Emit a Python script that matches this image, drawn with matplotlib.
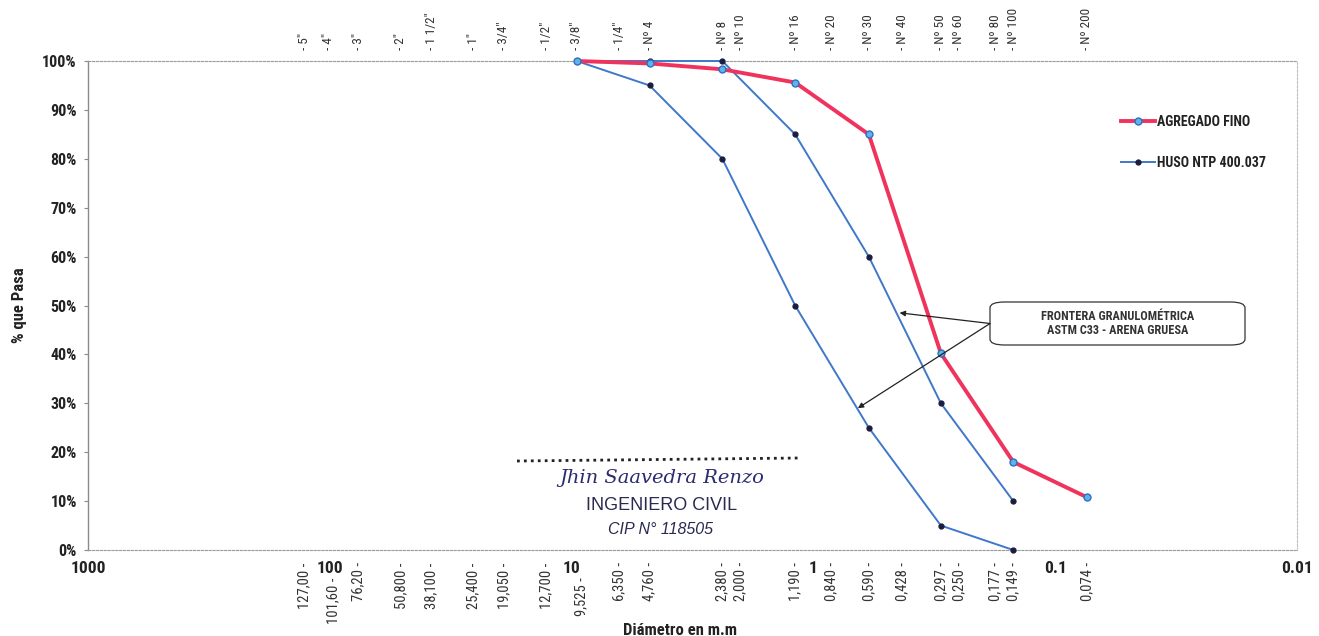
import matplotlib
matplotlib.use("Agg")
import matplotlib.pyplot as plt
from matplotlib.lines import Line2D
from matplotlib.patches import FancyBboxPatch
from matplotlib.ticker import FuncFormatter
import matplotlib.transforms as mtransforms

plt.rcParams['font.family'] = ['Roboto Condensed', 'DejaVu Sans']

# Sieve openings (mm) and their names
sieve_mm = [127.0, 101.6, 76.2, 50.8, 38.1, 25.4, 19.05, 12.7, 9.525, 6.35, 4.76,
            2.38, 2.0, 1.19, 0.84, 0.59, 0.428, 0.297, 0.25, 0.177, 0.149, 0.074]
sieve_names = ['5"', '4"', '3"', '2"', '1 1/2"', '1"', '3/4"', '1/2"', '3/8"', '1/4"', 'Nº 4',
               'Nº 8', 'Nº 10', 'Nº 16', 'Nº 20', 'Nº 30', 'Nº 40', 'Nº 50', 'Nº 60', 'Nº 80',
               'Nº 100', 'Nº 200']
sieve_mm_labels = ['127,00', '101,60', '76,20', '50,800', '38,100', '25,400', '19,050', '12,700',
                   '9,525', '6,350', '4,760', '2,380', '2,000', '1,190', '0,840', '0,590', '0,428',
                   '0,297', '0,250', '0,177', '0,149', '0,074']

# Fine aggregate gradation
fino_mm = [9.525, 4.76, 2.38, 1.19, 0.59, 0.297, 0.149, 0.074]
fino_pasa = [100.0, 99.5, 98.3, 95.6, 85.0, 40.2, 18.0, 10.8]

# ASTM C33 / NTP 400.037 limits
huso_mm = [9.525, 4.76, 2.38, 1.19, 0.59, 0.297, 0.149]
huso_sup = [100, 100, 100, 85, 60, 30, 10]
huso_inf = [100, 95, 80, 50, 25, 5, 0]

decades = [1000, 100, 10, 1, 0.1, 0.01]
decade_labels = ['1000', '100', '10', '1', '0.1', '0.01']
y_ticks = [0, 10, 20, 30, 40, 50, 60, 70, 80, 90, 100]

W, H = 1319, 636
fig = plt.figure(figsize=(W / 100, H / 100), dpi=100)
fig.patch.set_facecolor('white')
ax = fig.add_axes([88 / W, 86 / H, 1209 / W, 489 / H])

ax.set_xscale('log')
ax.set_xlim(1000, 0.01)
ax.set_ylim(0, 100)

red = '#f0335c'
blue = '#3f78c9'
navy = '#1c1c3c'
dark = '#222222'

ax.plot(huso_mm, huso_sup, color=blue, lw=1.4, marker='o', ms=3.5,
        mfc=navy, mec=navy, clip_on=False, zorder=3)
ax.plot(huso_mm, huso_inf, color=blue, lw=1.4, marker='o', ms=3.5,
        mfc=navy, mec=navy, clip_on=False, zorder=3)
ax.plot(fino_mm, fino_pasa, color=red, lw=2.8, marker='o', ms=5,
        mfc='#5fb2ea', mec='#2f6fc0', mew=1.0, clip_on=False, zorder=4)

# Axes frame
for side in ['top', 'right', 'bottom']:
    ax.spines[side].set_linestyle((0, (2, 1.5)))
    ax.spines[side].set_color('#9a9a9a')
    ax.spines[side].set_linewidth(0.8)
ax.spines['right'].set_color('#c0c0c0')
ax.spines['left'].set_color('#8a8a8a')
ax.spines['left'].set_linewidth(1.0)

ax.set_yticks(y_ticks)
ax.yaxis.set_major_formatter(FuncFormatter(lambda v, p: f'{int(v)}%'))
ax.tick_params(axis='y', length=3, color='#8a8a8a', pad=5, labelsize=11.5)
for t in ax.get_yticklabels():
    t.set_fontweight('bold')
    t.set_color(dark)

ax.set_xticks(decades)
ax.set_xticklabels(decade_labels)
ax.minorticks_off()
ax.tick_params(axis='x', length=0, pad=8, labelsize=12.5)
for t in ax.get_xticklabels():
    t.set_fontweight('bold')
    t.set_color(dark)

trans = mtransforms.blended_transform_factory(ax.transData, ax.transAxes)
trans_shift = mtransforms.offset_copy(trans, fig=fig, x=5, y=0, units='dots')
low_labels = {'101,60', '9,525'}
for mm, name, lab in zip(sieve_mm, sieve_names, sieve_mm_labels):
    ax.text(mm, 1.022, '- ' + name, transform=trans, rotation=90, ha='center',
            va='bottom', fontsize=9.5, color='#333333')
    if lab in low_labels:
        ax.text(mm, -0.056, lab + ' -', transform=trans_shift, rotation=90, ha='center',
                va='top', fontsize=10.5, color='#333333')
    else:
        ax.text(mm, -0.025, lab + ' -', transform=trans, rotation=90, ha='center',
                va='top', fontsize=10.5, color='#333333')

fig.text(20 / W, 1 - 305 / H, '% que Pasa', rotation=90, ha='center', va='center',
         fontsize=12, fontweight='bold', color=dark)
fig.text(680 / W, 1 - 623 / H, 'Diámetro en m.m', ha='center', va='top',
         fontsize=12, fontweight='bold', color=dark)

# Legend
handles = [
    Line2D([], [], color=red, lw=2.8, marker='o', ms=5, mfc='#5fb2ea', mec='#2f6fc0'),
    Line2D([], [], color=blue, lw=1.4, marker='o', ms=3.5, mfc=navy, mec=navy),
]
leg = ax.legend(handles, ['AGREGADO FINO', 'HUSO NTP 400.037'], loc='upper left',
                bbox_to_anchor=(1108 / W, 1 - 102 / H), bbox_transform=fig.transFigure,
                frameon=False, handlelength=2.5, handletextpad=0.1, labelspacing=1.95,
                prop={'family': 'Roboto Condensed', 'size': 10, 'weight': 'bold'})
for t in leg.get_texts():
    t.set_color(dark)

# Gradation boundary note with arrows
bx0, by0, bw, bh = (990 - 88) / 1209, (550 - 345) / 489, 255 / 1209, 43 / 489
box = FancyBboxPatch((bx0, by0), bw, bh, transform=ax.transAxes,
                     boxstyle='round,pad=0,rounding_size=0.012', fc='white',
                     ec='#333333', lw=0.9, zorder=5)
ax.add_patch(box)
ax.text(bx0 + bw / 2, by0 + bh / 2, 'FRONTERA GRANULOMÉTRICA\nASTM C33 - ARENA GRUESA',
        transform=ax.transAxes, ha='center', va='center', fontsize=8.8,
        fontweight='bold', color='#333333', linespacing=1.1, zorder=6)
for target in [(0.44, 48.5), (0.655, 29.0)]:
    ax.annotate('', xy=target, xycoords='data', xytext=(bx0, by0 + bh / 2),
                textcoords='axes fraction',
                arrowprops=dict(arrowstyle='-|>', color=dark, lw=0.9,
                                mutation_scale=8, shrinkA=0, shrinkB=0), zorder=5)

# Engineer's stamp
ink = '#2b2b70'
fig.add_artist(Line2D([517 / W, 800 / W], [1 - 461 / H, 1 - 458 / H], transform=fig.transFigure,
                      color=dark, lw=2.0, ls=(0, (1, 1.5))))
fig.text(662 / W, 1 - 478 / H, 'Jhin Saavedra Renzo', ha='center', va='center',
         fontsize=14, style='italic', family='DejaVu Serif', color=ink)
fig.text(662 / W, 1 - 506 / H, 'INGENIERO CIVIL', ha='center', va='center',
         fontsize=13, family='Liberation Sans', color='#2a2a50')
fig.text(660 / W, 1 - 530 / H, 'CIP N° 118505', ha='center', va='center',
         fontsize=11.5, style='italic', family='Liberation Sans', color='#2a2a50')

fig.savefig('out.png', dpi=100, facecolor='white')
